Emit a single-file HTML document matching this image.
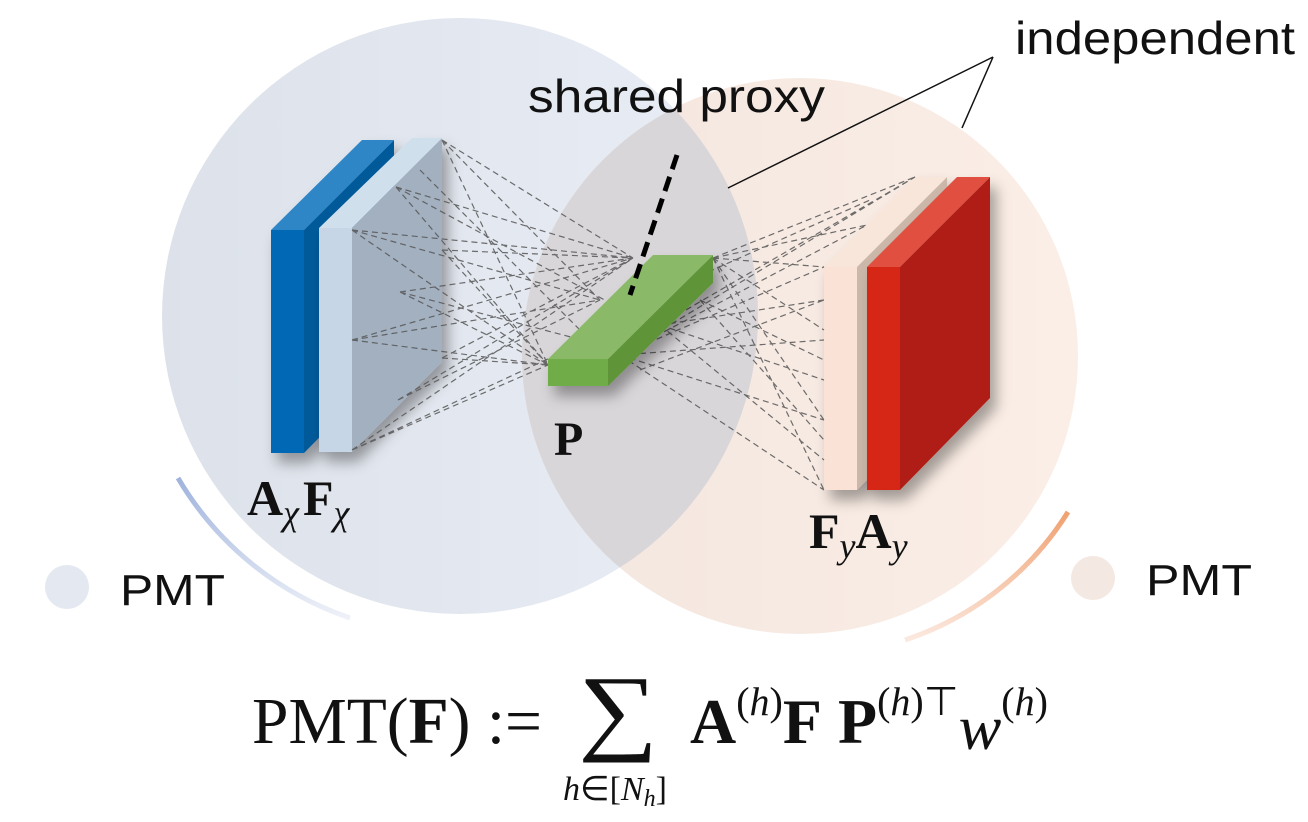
<!DOCTYPE html>
<html><head><meta charset="utf-8"><style>
html,body{margin:0;padding:0;background:#fff;}
svg{display:block;}
.s{font-family:"Liberation Sans",sans-serif;}
.m{font-family:"Liberation Serif",serif;}
</style></head><body>
<svg width="1308" height="822" viewBox="0 0 1308 822" xmlns="http://www.w3.org/2000/svg">
<defs>
<linearGradient id="lg" x1="0" y1="0" x2="1" y2="0">
<stop offset="0" stop-color="#dde2ea"/><stop offset="1" stop-color="#e9edf5"/></linearGradient>
<linearGradient id="rg" x1="0" y1="0" x2="1" y2="0">
<stop offset="0" stop-color="#f3e6df"/><stop offset="1" stop-color="#fbeee6"/></linearGradient>
<linearGradient id="ba" x1="0" y1="0" x2="0" y2="1">
<stop offset="0" stop-color="#9fb3dc"/><stop offset="1" stop-color="#eef1f8"/></linearGradient>
<linearGradient id="oa" x1="0" y1="0" x2="0" y2="1">
<stop offset="0" stop-color="#f0a070"/><stop offset="1" stop-color="#fbe9df"/></linearGradient>
<clipPath id="lc"><circle cx="460" cy="316" r="298"/></clipPath>
<filter id="sh" x="-30%" y="-30%" width="160%" height="160%"><feDropShadow dx="6" dy="10" stdDeviation="7" flood-color="#000" flood-opacity="0.35"/></filter>
</defs>
<rect width="1308" height="822" fill="#fff"/>
<circle cx="460" cy="316" r="298" fill="url(#lg)"/>
<circle cx="800" cy="356" r="278" fill="url(#rg)"/>
<circle cx="800" cy="356" r="278" fill="#d6d4d8" clip-path="url(#lc)" opacity="0.9"/>
<path d="M178,478 A318,318 0 0 0 350,618" stroke="url(#ba)" stroke-width="5" fill="none"/>
<path d="M1068,512 A305,305 0 0 1 905,640" stroke="url(#oa)" stroke-width="5" fill="none"/>
<circle cx="67" cy="587" r="22" fill="#e4e8f0"/>
<circle cx="1093" cy="578" r="22" fill="#f4e8e2"/>
<text x="120" y="605" class="s" font-size="44" fill="#111" textLength="105" lengthAdjust="spacingAndGlyphs">PMT</text>
<text x="1146" y="595" class="s" font-size="44" fill="#111" textLength="106" lengthAdjust="spacingAndGlyphs">PMT</text>
<text x="1015" y="54" class="s" font-size="46" fill="#111" textLength="280" lengthAdjust="spacingAndGlyphs">independent</text>
<text x="528" y="112" class="s" font-size="46" fill="#111" textLength="297" lengthAdjust="spacingAndGlyphs">shared proxy</text>
<line x1="993" y1="57" x2="728" y2="188" stroke="#111" stroke-width="1.5"/>
<line x1="993" y1="57" x2="962" y2="128" stroke="#111" stroke-width="1.5"/>
<g filter="url(#sh)">
<polygon points="304,230 394,140 394,362 304,453" fill="#005a9a"/>
<polygon points="271,230 304,230 394,140 362,140" fill="#2f86c6"/>
<rect x="271" y="230" width="33" height="223" fill="#0068b4"/>
</g>
<g filter="url(#sh)">
<polygon points="352,228 442,138 442,362 352,452" fill="#a2b0c0"/>
<polygon points="319,228 352,228 442,138 412,138" fill="#d0dfec"/>
<rect x="319" y="228" width="33" height="224" fill="#c6d6e6"/>
</g>
<g filter="url(#sh)">
<polygon points="857,267 947,177 947,400 857,490" fill="#cbb8aa"/>
<polygon points="824,267 857,267 947,177 914,177" fill="#f8e6da"/>
<rect x="824" y="267" width="33" height="223" fill="#fae3d6"/>
</g>
<g filter="url(#sh)">
<polygon points="900,267 990,177 990,398 900,490" fill="#b01f12"/>
<polygon points="867,267 900,267 990,177 957,177" fill="#e05040"/>
<rect x="867" y="267" width="33" height="223" fill="#d52512"/>
</g>
<g stroke="#555" stroke-width="1.2" stroke-dasharray="6,4" fill="none" opacity="0.85">
<path d="M442,140 L633,258 M442,140 L548,365 M442,140 L600,300 M396,187 L633,258 M396,187 L548,365 M396,187 L660,330 M352,230 L633,258 M352,230 L600,300 M352,230 L548,365 M400,292 L633,258 M400,292 L548,365 M400,292 L620,350 M352,340 L633,258 M352,340 L548,365 M352,340 L600,300 M442,358 L633,258 M442,358 L548,365 M398,400 L633,258 M398,400 L600,300 M352,450 L633,258 M352,450 L548,365 M352,450 L610,330 M442,250 L548,365 M442,250 L633,258 M420,170 L580,330"/>
<path d="M713,258 L915,177 M713,258 L867,225 M713,258 L824,267 M713,258 L824,330 M713,258 L824,420 M713,258 L824,490 M660,325 L915,177 M660,325 L824,300 M660,325 L824,380 M660,325 L824,460 M620,355 L915,177 M620,355 L867,225 M620,355 L824,267 M620,355 L824,340 M620,355 L824,420 M620,355 L824,490 M700,300 L824,360 M700,300 L824,440 M690,280 L870,200 M640,370 L824,300"/>
</g>
<g filter="url(#sh)">
<polygon points="608,359 713,255 713,283 608,386" fill="#5e9438"/>
<polygon points="548,359 608,359 713,255 653,255" fill="#8aba68"/>
<rect x="548" y="359" width="60" height="27" fill="#6fac46"/>
</g>
<line x1="677" y1="155" x2="630" y2="295" stroke="#000" stroke-width="5" stroke-dasharray="15,8"/>
<text x="554" y="455" class="m" font-size="48" font-weight="bold" fill="#111">P</text>
<text x="247" y="515" class="m" font-size="50" fill="#111"><tspan font-weight="bold">A</tspan><tspan font-style="italic" font-size="36" dy="10">χ</tspan><tspan font-weight="bold" dy="-10" dx="4">F</tspan><tspan font-style="italic" font-size="36" dy="10">χ</tspan></text>
<text x="809" y="548" class="m" font-size="50" fill="#111"><tspan font-weight="bold">F</tspan><tspan font-style="italic" font-size="36" dy="10">y</tspan><tspan font-weight="bold" dy="-10">A</tspan><tspan font-style="italic" font-size="36" dy="10">y</tspan></text>
<text x="252" y="743" class="m" font-size="66" fill="#111" textLength="290" lengthAdjust="spacingAndGlyphs">PMT(<tspan font-weight="bold">F</tspan>) :=</text>
<text x="578" y="742" class="m" font-size="96" fill="#111" textLength="80" lengthAdjust="spacingAndGlyphs">∑</text>
<text x="563" y="800" class="m" font-size="34" fill="#111"><tspan font-style="italic">h</tspan>∈[<tspan font-style="italic">N</tspan><tspan font-style="italic" font-size="24" dy="6">h</tspan><tspan dy="-6">]</tspan></text>
<text x="690" y="743" class="m" font-size="64" fill="#111"><tspan font-weight="bold">A</tspan><tspan font-size="40" dy="-28">(<tspan font-style="italic">h</tspan>)</tspan><tspan font-weight="bold" dy="28">F</tspan> <tspan font-weight="bold">P</tspan><tspan font-size="40" dy="-28">(<tspan font-style="italic">h</tspan>)⊤</tspan><tspan font-style="italic" dy="34">w</tspan><tspan font-size="40" dy="-34">(<tspan font-style="italic">h</tspan>)</tspan></text>
</svg>
</body></html>
